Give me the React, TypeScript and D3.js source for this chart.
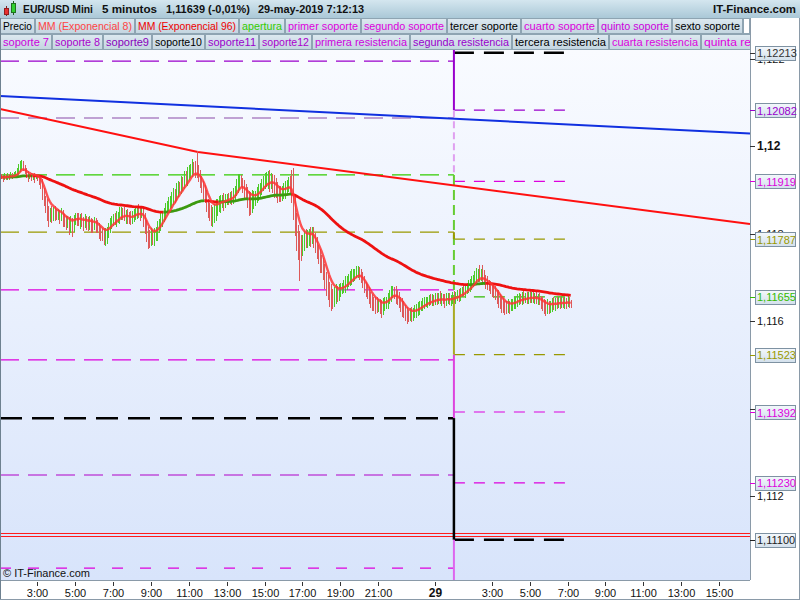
import React from "react";
import * as d3 from "d3";

// ---------------- DATA ----------------
// 5-minute bars, 28-may-2019 01:05 -> 29-may-2019 07:10. Prices in 1e-5 above 1.11000
const barStart = new Date(2019, 4, 28, 1, 5);
const barMinutes = 5;
const priceBase = 1.11;
const firstOpen = 931;
const closes = [
  929, 926, 931, 928, 932, 930, 934, 931, 933, 936, 940, 946,
  954, 960, 952, 944, 936, 930, 932, 928, 933, 930, 931, 928,
  922, 915, 895, 880, 866, 852, 843, 850, 846, 852, 849, 845,
  845, 840, 847, 836, 831, 826, 831, 823, 827, 819, 832, 838,
  836, 832, 838, 830, 826, 833, 829, 824, 830, 826, 822, 827,
  822, 818, 810, 806, 803, 799, 801, 806, 815, 822, 828, 835,
  832, 838, 840, 844, 848, 846, 842, 845, 840, 838, 834, 836,
  842, 848, 852, 848, 845, 848, 836, 822, 806, 795, 790, 798,
  792, 800, 806, 815, 824, 830, 840, 848, 856, 862, 868, 872,
  878, 890, 886, 898, 906, 903, 915, 912, 926, 922, 933, 938,
  942, 950, 948, 944, 940, 932, 920, 910, 898, 885, 868, 858,
  852, 848, 850, 856, 862, 870, 872, 876, 878, 874, 879, 881,
  880, 884, 882, 888, 896, 906, 916, 922, 918, 910, 900, 892,
  886, 880, 878, 882, 884, 886, 892, 898, 904, 910, 916, 920,
  922, 926, 920, 924, 918, 912, 906, 898, 894, 892, 896, 900,
  904, 908, 912, 906, 890, 860, 830, 800, 790, 782, 778, 784,
  790, 786, 794, 798, 795, 800, 790, 775, 760, 752, 740, 730,
  715, 700, 688, 676, 668, 662, 660, 664, 668, 664, 670, 675,
  676, 680, 686, 690, 694, 698, 702, 706, 708, 710, 712, 708,
  700, 690, 680, 672, 664, 656, 650, 646, 642, 640, 638, 640,
  636, 632, 638, 642, 646, 652, 658, 664, 668, 666, 660, 654,
  646, 640, 632, 626, 620, 616, 614, 618, 616, 620, 624, 626,
  630, 634, 636, 640, 642, 644, 646, 648, 646, 650, 648, 652,
  650, 654, 648, 652, 650, 646, 650, 653, 648, 650, 655, 652,
  656, 660, 658, 664, 668, 666, 672, 676, 680, 684, 688, 692,
  698, 704, 708, 702, 706, 700, 694, 690, 684, 680, 676, 672,
  668, 662, 656, 650, 644, 640, 636, 634, 632, 636, 634, 638,
  640, 644, 646, 648, 652, 650, 654, 652, 655, 652, 656, 654,
  656, 652, 655, 650, 652, 648, 644, 640, 636, 634, 636, 632,
  636, 640, 638, 642, 640, 644, 641, 644, 640, 643, 641, 645,
  641, 639,
];
const wickUp = [
  6, 4, 8, 5, 7, 4, 6, 5, 8, 6, 10, 12,
  12, 8, 5, 4, 6, 8, 5, 7, 4, 6, 5, 6,
  6, 8, 10, 8, 6, 12, 10, 8, 12, 8, 10, 6,
  10, 8, 12, 6, 8, 10, 8, 6, 12, 8, 10, 8,
  8, 12, 6, 10, 8, 12, 6, 8, 10, 6, 8, 10,
  8, 10, 6, 8, 6, 10, 12, 8, 10, 14, 12, 10,
  12, 14, 10, 16, 12, 10, 14, 8, 12, 10, 14, 16,
  14, 10, 12, 16, 10, 14, 8, 10, 8, 10, 12, 14,
  10, 12, 8, 14, 10, 16, 12, 10, 14, 12, 16, 14,
  16, 14, 12, 18, 14, 12, 16, 14, 18, 16, 20, 18,
  16, 20, 14, 18, 44, 16, 14, 12, 10, 12, 14, 12,
  12, 14, 10, 12, 16, 10, 14, 12, 10, 14, 12, 10,
  12, 10, 14, 16, 12, 18, 20, 14, 12, 10, 12, 14,
  14, 12, 16, 18, 14, 12, 14, 16, 12, 14, 16, 18,
  18, 16, 20, 14, 12, 16, 14, 12, 10, 14, 12, 16,
  16, 14, 18, 20, 40, 60, 24, 18, 20, 16, 14, 12,
  16, 20, 14, 12, 18, 16, 14, 12, 16, 14, 12, 10,
  14, 16, 12, 18, 14, 16, 12, 14, 16, 12, 14, 12,
  12, 14, 16, 12, 14, 16, 18, 14, 12, 16, 14, 12,
  10, 12, 14, 10, 12, 14, 10, 12, 10, 12, 14, 10,
  10, 12, 14, 12, 10, 12, 14, 16, 12, 10, 14, 12,
  12, 10, 12, 14, 10, 12, 10, 12, 14, 10, 12, 14,
  14, 12, 10, 12, 14, 12, 10, 12, 14, 12, 10, 12,
  12, 10, 14, 12, 10, 12, 14, 10, 12, 10, 12, 14,
  10, 12, 14, 12, 10, 14, 12, 10, 14, 12, 16, 14,
  16, 18, 12, 20, 14, 22, 16, 12, 14, 10, 12, 10,
  10, 12, 10, 14, 12, 10, 12, 10, 12, 14, 10, 12,
  10, 12, 10, 14, 12, 10, 12, 14, 10, 12, 10, 12,
  10, 12, 10, 12, 10, 12, 10, 12, 10, 12, 14, 10,
  10, 12, 14, 10, 12, 10, 12, 14, 10, 12, 10, 12,
  10, 8,
];
const wickDown = [
  5, 8, 4, 6, 5, 7, 4, 6, 5, 4, 6, 5,
  6, 8, 10, 9, 8, 12, 6, 8, 5, 14, 6, 8,
  10, 14, 18, 16, 20, 24, 28, 16, 22, 18, 20, 14,
  14, 18, 12, 20, 16, 18, 14, 26, 22, 28, 16, 12,
  18, 14, 22, 16, 20, 14, 22, 18, 16, 24, 20, 14,
  20, 16, 22, 24, 20, 26, 28, 24, 16, 14, 12, 10,
  12, 16, 14, 18, 12, 16, 14, 20, 18, 16, 14, 12,
  10, 12, 14, 12, 16, 10, 20, 24, 26, 30, 22, 18,
  18, 20, 16, 22, 14, 18, 16, 14, 18, 12, 14, 12,
  14, 12, 16, 12, 14, 10, 12, 14, 10, 12, 14, 10,
  10, 12, 14, 16, 12, 14, 16, 18, 20, 16, 18, 22,
  24, 30, 34, 26, 28, 22, 20, 24, 18, 22, 16, 14,
  14, 12, 16, 14, 12, 10, 14, 16, 12, 18, 20, 16,
  28, 40, 36, 30, 26, 22, 16, 18, 14, 16, 12, 14,
  14, 20, 24, 18, 26, 30, 24, 28, 22, 20, 18, 16,
  20, 16, 14, 18, 20, 28, 36, 40, 50, 90, 40, 30,
  24, 20, 18, 22, 26, 20, 24, 20, 18, 22, 30, 20,
  22, 26, 30, 28, 36, 40, 32, 28, 24, 20, 18, 16,
  14, 12, 16, 14, 12, 14, 16, 12, 14, 10, 12, 14,
  12, 14, 16, 18, 14, 16, 20, 22, 18, 24, 20, 18,
  20, 24, 18, 16, 14, 18, 12, 14, 12, 16, 20, 18,
  16, 20, 22, 18, 20, 22, 16, 14, 18, 16, 14, 16,
  14, 16, 12, 14, 12, 10, 14, 12, 10, 12, 14, 12,
  14, 12, 10, 14, 12, 16, 12, 10, 12, 14, 12, 10,
  12, 10, 14, 12, 10, 12, 14, 10, 12, 14, 12, 10,
  12, 10, 14, 12, 10, 14, 12, 16, 14, 12, 14, 16,
  16, 14, 18, 20, 16, 22, 18, 20, 16, 14, 18, 12,
  14, 12, 16, 14, 12, 10, 14, 12, 10, 12, 14, 12,
  12, 10, 12, 10, 14, 12, 16, 18, 20, 22, 18, 16,
  14, 16, 12, 14, 12, 10, 14, 12, 10, 12, 14, 10,
  12, 10,
];

// pivot levels: previous day (left of 29-may 01:00) and current day (right)
const chartStart = new Date(2019, 4, 28, 1, 2);
const chartEnd = new Date(2019, 4, 29, 16, 38);
const dayBoundary = new Date(2019, 4, 29, 1, 0);
const levelsEnd = new Date(2019, 4, 29, 7, 10);
const prevDayLevels = [1.12194, 1.12064, 1.11934, 1.11803, 1.11671, 1.11511, 1.11378, 1.11248, 1.11035];
const prevDayColors = ["#9900cc", "#8a4aa8", "#33cc00", "#999900", "#dd00dd", "#dd00dd", "#000000", "#b000c8", "#dd00dd"];
const currDayLevels = [1.12213, 1.12082, 1.11919, 1.11787, 1.11655, 1.11523, 1.11392, 1.1123, 1.111];
const currDayColors = ["#000000", "#9900cc", "#dd00dd", "#999900", "#33bb00", "#999900", "#dd00dd", "#dd00dd", "#000000"];
const currLabelColors = ["#333333", "#9900cc", "#dd00dd", "#999900", "#33bb00", "#999900", "#dd00dd", "#dd00dd", "#222222"];
const boundarySteps: [number, number, string][] = [
  [1.1222, 1.12082, "#9900cc"],
  [1.12082, 1.11934, "#e0a0f0"],
  [1.11934, 1.11655, "#66cc33"],
  [1.11803, 1.11787, "#999900"],
  [1.11655, 1.11523, "#aaaa22"],
  [1.11523, 1.11378, "#dd44dd"],
  [1.11378, 1.111, "#000000"],
  [1.111, 1.11008, "#dd66ee"],
];
const redDoubleLine = [1.111143, 1.111074];
const blueTrend = [
  { t: new Date(2019, 4, 28, 1, 2), p: 1.121143 },
  { t: new Date(2019, 4, 29, 16, 38), p: 1.120286 },
];
const redTrend = [
  { t: new Date(2019, 4, 28, 1, 2), p: 1.120846 },
  { t: new Date(2019, 4, 28, 11, 29), p: 1.119863 },
  { t: new Date(2019, 4, 29, 16, 38), p: 1.118217 },
];
const priceTicks = [1.112, 1.114, 1.116, 1.118, 1.12, 1.122];
const timeTicks = [
  new Date(2019, 4, 28, 3), new Date(2019, 4, 28, 5), new Date(2019, 4, 28, 7), new Date(2019, 4, 28, 9),
  new Date(2019, 4, 28, 11), new Date(2019, 4, 28, 13), new Date(2019, 4, 28, 15), new Date(2019, 4, 28, 17),
  new Date(2019, 4, 28, 19), new Date(2019, 4, 28, 21), new Date(2019, 4, 29, 0), new Date(2019, 4, 29, 3),
  new Date(2019, 4, 29, 5), new Date(2019, 4, 29, 7), new Date(2019, 4, 29, 9), new Date(2019, 4, 29, 11),
  new Date(2019, 4, 29, 13), new Date(2019, 4, 29, 15),
];
const headerTexts = ["EUR/USD Mini", "5 minutos", "1,11639 (-0,01%)", "29-may-2019 7:12:13"];
const siteName = "IT-Finance.com";
const legendRow1 = ["Precio", "MM (Exponencial 8)", "MM (Exponencial 96)", "apertura", "primer soporte", "segundo soporte", "tercer soporte", "cuarto soporte", "quinto soporte", "sexto soporte"];
const legendRow1Colors = ["#000", "#ff4444", "#ee0000", "#33cc00", "#dd00dd", "#dd00dd", "#000", "#dd00dd", "#cc00dd", "#000"];
const legendRow2 = ["soporte 7", "soporte 8", "soporte9", "soporte10", "soporte11", "soporte12", "primera resistencia", "segunda resistencia", "tercera resistencia", "cuarta resistencia", "quinta resistencia"];
const legendRow2Colors = ["#cc00dd", "#aa00cc", "#8800bb", "#000", "#9900cc", "#aa00cc", "#cc00dd", "#9900cc", "#000", "#dd00dd", "#dd00dd"];

// ---------------- LAYOUT ----------------
const headerX = [23, 102, 166, 258];
const headerW = [70, 55, 84, 106];
const legendRow1Widths = [35, 100, 104, 46, 76, 86, 74, 77, 74, 71];
const legendRow2Widths = [52, 51, 49, 53, 54, 53, 98, 102, 97, 92, 100];
const PL = 0, PR = 750, PT = 50, PB = 580;
const FONT = "'Liberation Sans', Arial, Helvetica, sans-serif";

function ema(values: number[], n: number) {
  const a = 2 / (n + 1);
  const out: number[] = [];
  values.forEach((v, i) => out.push(i === 0 ? v : out[i - 1] + a * (v - out[i - 1])));
  return out;
}

export default function App() {
  const x = d3.scaleTime().domain([chartStart, chartEnd]).range([PL, PR]);
  const y = d3.scaleLinear().domain([1.112, 1.12]).range([496, 146]);
  const toP = (v: number) => priceBase + v / 100000;
  const barTime = (i: number) => new Date(barStart.getTime() + i * barMinutes * 60000);

  const bars = closes.map((c, i) => {
    const o = i === 0 ? firstOpen : closes[i - 1];
    return { i, o, c, h: Math.max(o, c) + wickUp[i], l: Math.min(o, c) - wickDown[i] };
  });
  const ema8 = ema(closes, 8);
  const ema96 = ema(closes, 96);

  const line = d3.line<[number, number]>().x((d) => d[0]).y((d) => d[1]);
  const ema8Path = line(ema8.map((v, i) => [x(barTime(i)), y(toP(v))] as [number, number]));

  const runs: { color: string; pts: [number, number][] }[] = [];
  for (let i = 1; i < ema96.length; i++) {
    const color = ema96[i] >= ema96[i - 1] ? "#3c9a10" : "#ee1111";
    const p0: [number, number] = [x(barTime(i - 1)), y(toP(ema96[i - 1]))];
    const p1: [number, number] = [x(barTime(i)), y(toP(ema96[i]))];
    if (!runs.length || runs[runs.length - 1].color !== color) runs.push({ color, pts: [p0] });
    runs[runs.length - 1].pts.push(p1);
  }

  const xb = x(dayBoundary);
  const xs = x(chartStart);
  const xe = x(levelsEnd);
  const fmtPrice = (v: number) => v.toFixed(5).replace(".", ",");
  const fmtTick = (v: number) => String(+v.toFixed(3)).replace(".", ",");

  let acc1 = 0;
  const row1 = legendRow1.map((t, i) => { const b = { t, c: legendRow1Colors[i], x: acc1, w: legendRow1Widths[i] }; acc1 += legendRow1Widths[i]; return b; });
  let acc2 = 0;
  const row2 = legendRow2.map((t, i) => { const b = { t, c: legendRow2Colors[i], x: acc2, w: legendRow2Widths[i] }; acc2 += legendRow2Widths[i]; return b; });

  return (
    <svg width={800} height={600} style={{ position: "absolute", left: 0, top: 0, display: "block" }} fontFamily={FONT}>
      <defs>
        <linearGradient id="hdr" x1="0" y1="0" x2="0" y2="1">
          <stop offset="0" stopColor="#d4e6ef" />
          <stop offset="1" stopColor="#aac8d7" />
        </linearGradient>
        <linearGradient id="leg" x1="0" y1="0" x2="0" y2="1">
          <stop offset="0" stopColor="#dde9f0" />
          <stop offset="1" stopColor="#c3d5e0" />
        </linearGradient>
        <linearGradient id="plotbg" x1="0" y1="0" x2="0" y2="1">
          <stop offset="0" stopColor="#f9fbff" />
          <stop offset="1" stopColor="#d8e4fb" />
        </linearGradient>
        <linearGradient id="box" x1="0" y1="0" x2="0" y2="1">
          <stop offset="0" stopColor="#f4f8fc" />
          <stop offset="1" stopColor="#d3e0ec" />
        </linearGradient>
        <clipPath id="plotClip"><rect x={PL} y={PT} width={PR - PL} height={PB - PT} /></clipPath>
        <clipPath id="legClip"><rect x={0} y={18} width={750} height={32} /></clipPath>
      </defs>
      <rect x={0} y={0} width={800} height={600} fill="#ffffff" />

      {/* header */}
      <rect x={0} y={0} width={800} height={18} fill="url(#hdr)" />
      <line x1={6.5} x2={6.5} y1={6} y2={16} stroke="#802020" />
      <rect x={4.5} y={8.5} width={4} height={6} fill="#e83030" stroke="#902020" />
      <line x1={13.5} x2={13.5} y1={1} y2={15} stroke="#206020" />
      <rect x={11.5} y={3.5} width={4} height={9} fill="#30d030" stroke="#207020" />
      <g fontWeight="bold" fontSize={11.5} fill="#111">
        {headerTexts.map((t, i) => (
          <text key={t} x={headerX[i]} y={13} textLength={headerW[i]} lengthAdjust="spacingAndGlyphs">{t}</text>
        ))}
        <text x={713} y={13} textLength={83} lengthAdjust="spacingAndGlyphs">{siteName}</text>
      </g>

      {/* legend */}
      <g clipPath="url(#legClip)" fontSize={11}>
        {row1.map((b) => (
          <g key={b.t}>
            <rect x={b.x + 0.5} y={18.5} width={b.w - 1} height={15} fill="url(#leg)" stroke="#8ea4b2" />
            <text x={b.x + 3} y={30} fill={b.c} textLength={b.w - 6} lengthAdjust="spacingAndGlyphs">{b.t}</text>
          </g>
        ))}
        <rect x={acc1 + 0.5} y={18.5} width={6} height={15} fill="#fff" stroke="#8ea4b2" />
        {row2.map((b) => (
          <g key={b.t}>
            <rect x={b.x + 0.5} y={34.5} width={b.w - 1} height={15} fill="url(#leg)" stroke="#8ea4b2" />
            <text x={b.x + 3} y={46} fill={b.c} textLength={b.w - 6} lengthAdjust="spacingAndGlyphs">{b.t}</text>
          </g>
        ))}
      </g>

      {/* plot */}
      <rect x={PL} y={PT} width={PR - PL} height={PB - PT} fill="url(#plotbg)" />
      <g clipPath="url(#plotClip)">
        {redDoubleLine.map((p, i) => (
          <line key={"rd" + i} x1={PL} x2={PR} y1={y(p)} y2={y(p)} stroke="#ff1a1a" strokeWidth={1} />
        ))}
        {prevDayLevels.map((p, i) => {
          const black = prevDayColors[i] === "#000000";
          const last = i === prevDayLevels.length - 1;
          return (
            <line key={"pl" + i} x1={xs} x2={xb} y1={y(p)} y2={y(p)} stroke={prevDayColors[i]}
              strokeWidth={black ? 2.5 : 1.2} strokeDasharray={black ? "22,10" : last ? "11,17" : "19,9"} />
          );
        })}
        {currDayLevels.map((p, i) => {
          const black = currDayColors[i] === "#000000";
          return (
            <line key={"cl" + i} x1={xb} x2={xe} y1={y(p)} y2={y(p)} stroke={currDayColors[i]}
              strokeWidth={black ? 2.5 : 1.2} strokeDasharray={black ? "20,10" : "11,9"} />
          );
        })}
        {boundarySteps.map(([a, b, c], i) => (
          <line key={"bs" + i} x1={xb} x2={xb} y1={y(a)} y2={y(b)} stroke={c}
            strokeWidth={c === "#000000" ? 2.5 : 2} strokeDasharray={c === "#66cc33" ? "10,5" : c === "#e0a0f0" ? "7,4" : undefined} />
        ))}
        <path d={line(blueTrend.map((d) => [x(d.t), y(d.p)] as [number, number])) || ""} fill="none" stroke="#1030e0" strokeWidth={2} />
        <path d={line(redTrend.map((d) => [x(d.t), y(d.p)] as [number, number])) || ""} fill="none" stroke="#ff1010" strokeWidth={2} />
        <g shapeRendering="crispEdges">
          {bars.map((b) => {
            const xi = Math.round(x(barTime(b.i))) + 0.5;
            return (
              <line key={"b" + b.i} x1={xi} x2={xi} y1={y(toP(b.h))} y2={y(toP(b.l))}
                stroke={b.c >= b.o ? "#4ccc2a" : "#dd5a5a"} strokeWidth={1} />
            );
          })}
        </g>
        {runs.map((r, i) => (
          <path key={"e96" + i} d={line(r.pts) || ""} fill="none" stroke={r.color} strokeWidth={2.8} strokeLinejoin="round" />
        ))}
        <path d={ema8Path || ""} fill="none" stroke="#ff3535" strokeOpacity={0.85} strokeWidth={2.4} strokeLinejoin="round" />
        <text x={3} y={577} fontSize={11} fill="#111">© IT-Finance.com</text>
      </g>
      <line x1={PR + 0.5} x2={PR + 0.5} y1={18} y2={PB} stroke="#8a9aa8" />
      <line x1={0} x2={PR} y1={PB + 0.5} y2={PB + 0.5} stroke="#8a9aa8" />

      {/* right axis */}
      <g fontSize={11}>
        {priceTicks.map((v) => {
          const bold = Math.abs(v * 100 - Math.round(v * 100)) < 1e-9;
          const hidden = currDayLevels.some((l) => Math.abs(y(l) - y(v)) < 5);
          return (
            <g key={"pt" + v}>
              <line x1={PR} x2={PR + 5} y1={Math.round(y(v)) + 0.5} y2={Math.round(y(v)) + 0.5} stroke="#333" />
              {!hidden && (
                <text x={757} y={y(v) + 4} fill="#111" fontWeight={bold ? "bold" : "normal"} fontSize={bold ? 12 : 11}>{fmtTick(v)}</text>
              )}
            </g>
          );
        })}
        {currDayLevels.map((v, i) => (
          <g key={"lb" + i}>
            <line x1={PR} x2={PR + 5} y1={Math.round(y(v)) + 0.5} y2={Math.round(y(v)) + 0.5} stroke={currLabelColors[i]} />
            <rect x={755.5} y={Math.round(y(v)) - 6.5} width={40} height={14} fill="url(#box)" stroke="#7e92a2" />
            <text x={757} y={y(v) + 4.5} fill={currLabelColors[i]}>{fmtPrice(v)}</text>
          </g>
        ))}
      </g>

      {/* bottom axis */}
      <g fontSize={11} fill="#111">
        {timeTicks.map((t, i) => {
          const xt = Math.round(x(t)) + 0.5;
          const midnight = t.getHours() === 0;
          return (
            <g key={"tt" + i}>
              <line x1={xt} x2={xt} y1={582} y2={586} stroke="#333" />
              <text x={xt} y={597} textAnchor="middle" fontWeight={midnight ? "bold" : "normal"} fontSize={midnight ? 12 : 11}>
                {midnight ? d3.timeFormat("%-d")(t) : d3.timeFormat("%-H:%M")(t)}
              </text>
            </g>
          );
        })}
      </g>

      {/* frame */}
      <line x1={0.5} x2={0.5} y1={18} y2={600} stroke="#6e8190" />
      <line x1={799.5} x2={799.5} y1={18} y2={600} stroke="#8a9aa8" />
      <line x1={0} x2={800} y1={599.5} y2={599.5} stroke="#8a9aa8" />
    </svg>
  );
}
